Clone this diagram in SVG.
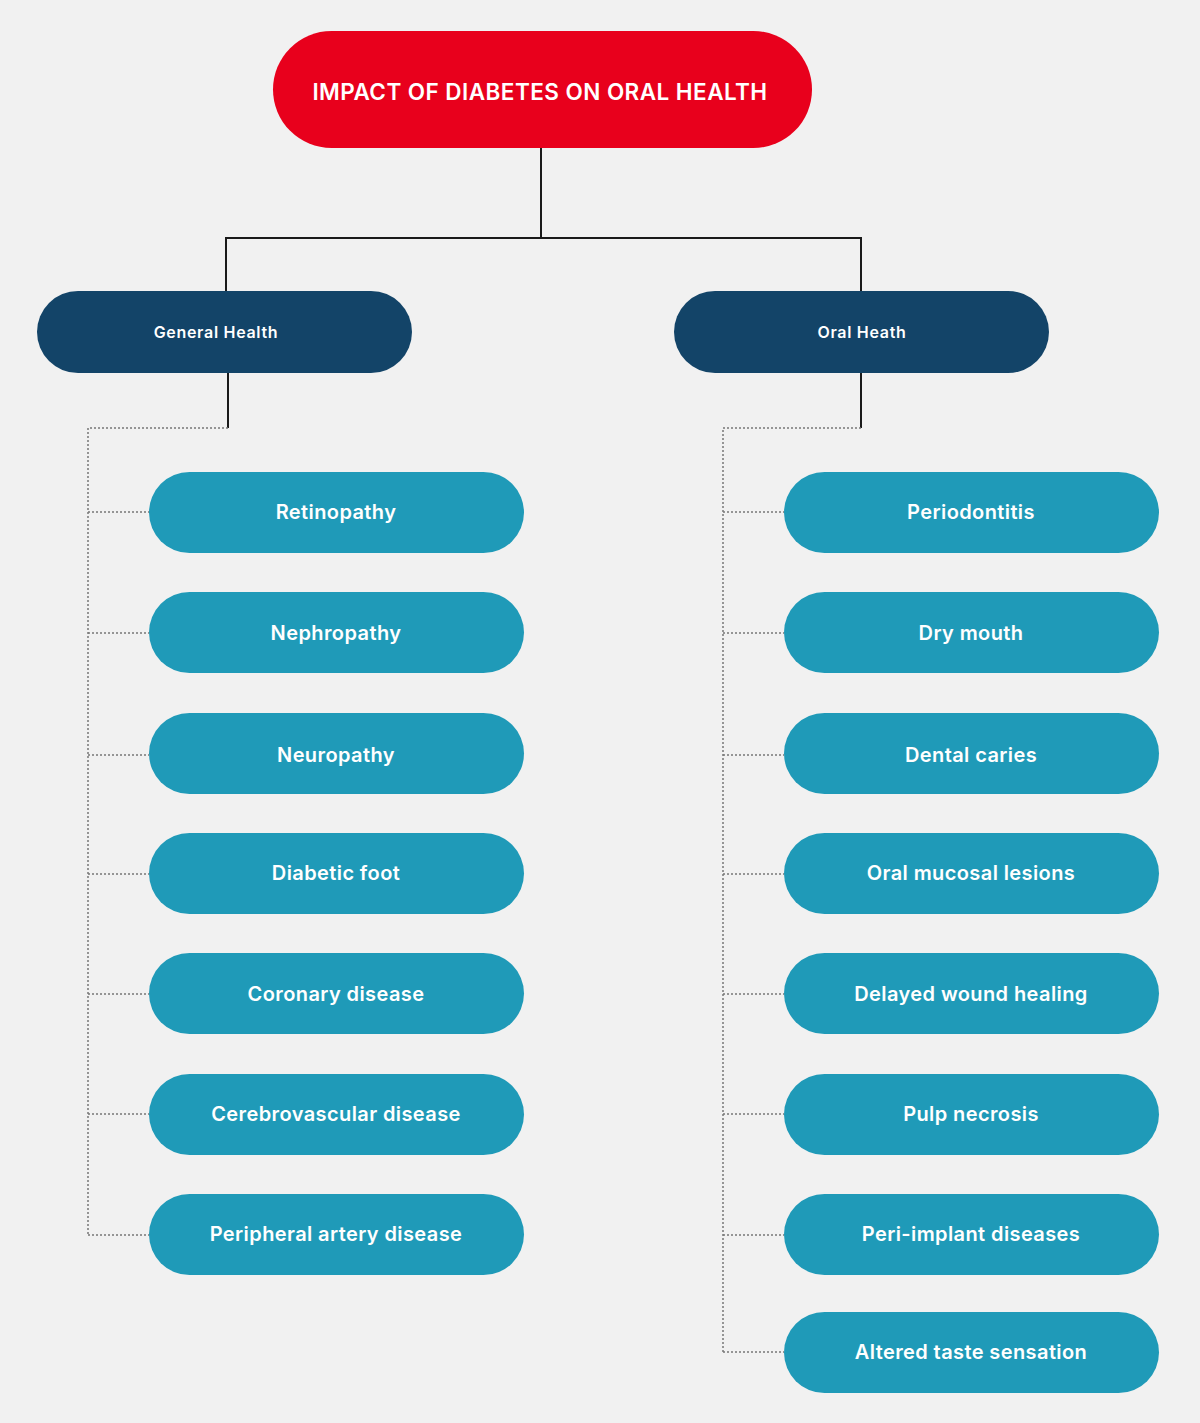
<svg xmlns="http://www.w3.org/2000/svg" width="1200" height="1423" viewBox="0 0 1200 1423">
<style>
.bg{fill:#F1F1F1}
.title{fill:#E8001C}
.cat{fill:#134468}
.item{fill:#1F9AB8}
text{font-family:"Inter","Open Sans","Liberation Sans",sans-serif;fill:#FFFFFF;font-weight:600;text-anchor:middle;dominant-baseline:central}
.t1{font-size:22.5px;letter-spacing:0.45px}
.t2{font-size:16px;letter-spacing:0.7px}
.t3{font-size:20px;letter-spacing:0.4px}
.solid{stroke:#1A1A1A;stroke-width:2;fill:none}
.dot{stroke:#777777;stroke-width:1.5;fill:none;stroke-dasharray:2 2}
</style>
<rect class="bg" x="0" y="0" width="1200" height="1423"/>
<g id="connectors">
<path class="solid" d="M541 148 V238 M226 238 H861 M226 237 V292 M861 237 V292"/>
<path class="solid" d="M228 372 V428 M861 372 V428"/>
<path class="dot" d="M228 428 H88 V1235 M88 512 H149 M88 633 H149 M88 755 H149 M88 874 H149 M88 994 H149 M88 1114 H149 M88 1235 H149"/>
<path class="dot" d="M861 428 H723 V1352 M723 512 H784 M723 633 H784 M723 755 H784 M723 874 H784 M723 994 H784 M723 1114 H784 M723 1235 H784 M723 1352 H784"/>
</g>
<g id="title"><rect class="title" x="273" y="31" width="539" height="117" rx="58.5"/><text class="t1" x="540" y="91">IMPACT OF DIABETES ON ORAL HEALTH</text></g>
<g id="general-health"><rect class="cat" x="37" y="291" width="375" height="82" rx="41"/><text class="t2" x="216" y="332">General Health</text></g>
<g id="oral-health"><rect class="cat" x="674" y="291" width="375" height="82" rx="41"/><text class="t2" x="862" y="332">Oral Heath</text></g>
<g id="retinopathy"><rect class="item" x="149" y="472" width="375" height="81" rx="40.5"/><text class="t3" x="336" y="512">Retinopathy</text></g>
<g id="nephropathy"><rect class="item" x="149" y="592" width="375" height="81" rx="40.5"/><text class="t3" x="336" y="633">Nephropathy</text></g>
<g id="neuropathy"><rect class="item" x="149" y="713" width="375" height="81" rx="40.5"/><text class="t3" x="336" y="755">Neuropathy</text></g>
<g id="diabetic-foot"><rect class="item" x="149" y="833" width="375" height="81" rx="40.5"/><text class="t3" x="336" y="873">Diabetic foot</text></g>
<g id="coronary-disease"><rect class="item" x="149" y="953" width="375" height="81" rx="40.5"/><text class="t3" x="336" y="994">Coronary disease</text></g>
<g id="cerebrovascular-disease"><rect class="item" x="149" y="1074" width="375" height="81" rx="40.5"/><text class="t3" x="336" y="1114">Cerebrovascular disease</text></g>
<g id="peripheral-artery-disease"><rect class="item" x="149" y="1194" width="375" height="81" rx="40.5"/><text class="t3" x="336" y="1234">Peripheral artery disease</text></g>
<g id="periodontitis"><rect class="item" x="784" y="472" width="375" height="81" rx="40.5"/><text class="t3" x="971" y="512">Periodontitis</text></g>
<g id="dry-mouth"><rect class="item" x="784" y="592" width="375" height="81" rx="40.5"/><text class="t3" x="971" y="633">Dry mouth</text></g>
<g id="dental-caries"><rect class="item" x="784" y="713" width="375" height="81" rx="40.5"/><text class="t3" x="971" y="755">Dental caries</text></g>
<g id="oral-mucosal-lesions"><rect class="item" x="784" y="833" width="375" height="81" rx="40.5"/><text class="t3" x="971" y="873">Oral mucosal lesions</text></g>
<g id="delayed-wound-healing"><rect class="item" x="784" y="953" width="375" height="81" rx="40.5"/><text class="t3" x="971" y="994">Delayed wound healing</text></g>
<g id="pulp-necrosis"><rect class="item" x="784" y="1074" width="375" height="81" rx="40.5"/><text class="t3" x="971" y="1114">Pulp necrosis</text></g>
<g id="peri-implant-diseases"><rect class="item" x="784" y="1194" width="375" height="81" rx="40.5"/><text class="t3" x="971" y="1234">Peri-implant diseases</text></g>
<g id="altered-taste-sensation"><rect class="item" x="784" y="1312" width="375" height="81" rx="40.5"/><text class="t3" x="971" y="1352">Altered taste sensation</text></g>
</svg>
